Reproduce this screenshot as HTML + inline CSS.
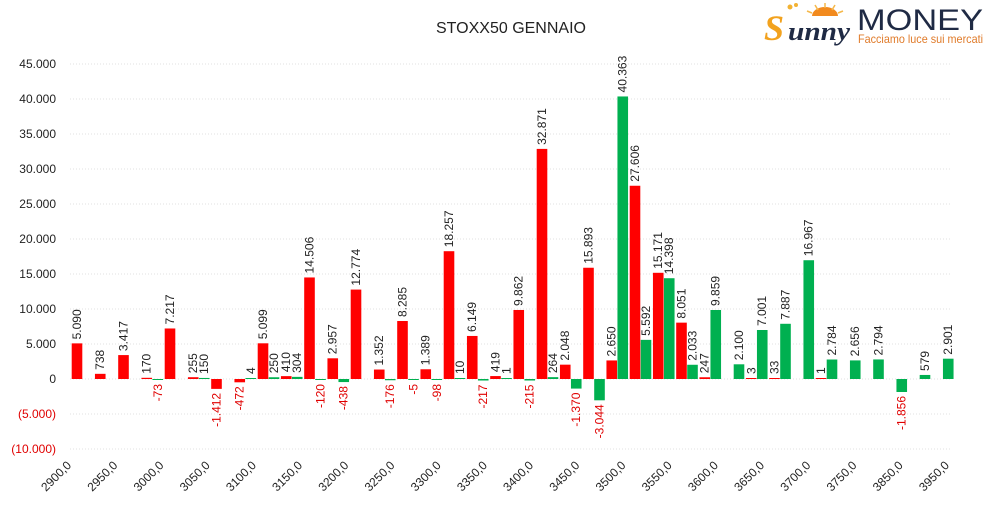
<!DOCTYPE html>
<html><head><meta charset="utf-8"><style>
html,body{margin:0;padding:0;background:#fff;}
svg{display:block;font-family:"Liberation Sans","DejaVu Sans",sans-serif;}
</style></head><body>
<svg id="chart" width="992" height="506" viewBox="0 0 992 506" xmlns="http://www.w3.org/2000/svg">
<rect width="992" height="506" fill="#fff"/>
<text x="511" y="33" text-anchor="middle" font-size="16" fill="#222">STOXX50 GENNAIO</text>
<g>
 <circle cx="790" cy="7" r="2.5" fill="#f2b233"/><circle cx="796" cy="5" r="2" fill="#f2b233"/>
 <path d="M812 16 A13 9 0 0 1 838 16 Z" fill="#f28a1e"/>
 <g stroke="#f5b84a" stroke-width="1.5"><line x1="825" y1="3" x2="825" y2="8"/><line x1="815" y1="5" x2="818" y2="10"/><line x1="835" y1="5" x2="832" y2="10"/><line x1="807" y1="11" x2="812" y2="13"/><line x1="843" y1="11" x2="838" y2="13"/></g>
 <text x="764" y="40" font-size="36" font-weight="bold" font-style="italic" fill="#f2a21e" font-family="Liberation Serif,serif">S</text>
 <text x="788" y="40" font-size="26" font-weight="bold" font-style="italic" fill="#1f2a44" font-family="Liberation Serif,serif" textLength="62" lengthAdjust="spacingAndGlyphs">unny</text>
 <text x="857" y="30" font-size="30" fill="#1f2a44" textLength="126" lengthAdjust="spacingAndGlyphs">MONEY</text>
 <text x="858" y="43" font-size="12" fill="#e07b2a" textLength="125" lengthAdjust="spacingAndGlyphs">Facciamo luce sui mercati</text>
</g>
<g id="grid"></g><g id="yaxis"></g><g id="bars"></g><g id="labels"></g><g id="xaxis"></g>
</svg>
<script>
const categories=[2900,2925,2950,2975,3000,3025,3050,3075,3100,3125,3150,3175,3200,3225,3250,3275,3300,3325,3350,3375,3400,3425,3450,3475,3500,3525,3550,3575,3600,3625,3650,3675,3700,3725,3750,3850,3900,3950];
const redValues=[5090,738,3417,170,7217,255,-1412,-472,5099,410,14506,2957,12774,1352,8285,1389,18257,6149,419,9862,32871,2048,15893,2650,27606,15171,8051,247,0,3,33,0,1,0,0,0,0,0];
const greenValues=[0,0,0,-73,0,150,0,4,250,304,-120,-438,0,-176,-5,-98,10,-217,1,-215,264,-1370,-3044,40363,5592,14398,2033,9859,2100,7001,7887,16967,2784,2656,2794,-1856,579,2901];
const redShown=[1,1,1,1,1,1,1,1,1,1,1,1,1,1,1,1,1,1,1,1,1,1,1,1,1,1,1,1,0,1,1,0,1,0,0,0,0,0];
const greenShown=[0,0,0,1,0,1,0,1,1,1,1,1,0,1,1,1,1,1,1,1,1,1,1,1,1,1,1,1,1,1,1,1,1,1,1,1,1,1];
const yTicks=[45000,40000,35000,30000,25000,20000,15000,10000,5000,0,-5000,-10000];
const xTickLabels=["2900,0","2950,0","3000,0","3050,0","3100,0","3150,0","3200,0","3250,0","3300,0","3350,0","3400,0","3450,0","3500,0","3550,0","3600,0","3650,0","3700,0","3750,0","3850,0","3950,0"];

const NS="http://www.w3.org/2000/svg";
const y0=379, pxPer=35/5000;
function yScale(v){return y0-v*pxPer;}
const bandW=23.25, redLeft0=71.7, barW=10.6;
function xRed(i){return redLeft0+i*bandW;}
function xGreen(i){return redLeft0+11+i*bandW;}
function fmt(v){const s=Math.abs(v).toString().replace(/\B(?=(\d{3})+(?!\d))/g,".");return (v<0?"-":"")+s;}
function fmtTick(v){const s=Math.abs(v).toString().replace(/\B(?=(\d{3})+(?!\d))/g,".");return v<0?"("+s+")":s;}
function mk(tag,attrs,parent){const e=document.createElementNS(NS,tag);for(const k in attrs)e.setAttribute(k,attrs[k]);parent.appendChild(e);return e;}
const grid=document.getElementById('grid'),yaxis=document.getElementById('yaxis'),bars=document.getElementById('bars'),labels=document.getElementById('labels'),xaxis=document.getElementById('xaxis');
yTicks.forEach(t=>{
  const y=yScale(t);
  const g=mk('line',{x1:70,x2:952,y1:y,y2:y,stroke:'#e2e2e2','stroke-width':1,'stroke-dasharray':'1,2'},grid);
  
  
  const tx=mk('text',{x:56,y:y+4,'text-anchor':'end','font-size':12,fill:t<0?'#e00000':'#222'},yaxis);
  tx.textContent=fmtTick(t);
  
  
});
function drawBar(i,v,x,color,shown){
  const h=Math.max(Math.abs(v)*pxPer,1);
  if(v!==0||shown){
    const r=mk('rect',{x:x,y:v>=0?y0-h:y0,width:barW,height:h,fill:color},bars);
    
    
  }
  if(!shown)return;
  const cx=x+barW/2+4;
  let t;
  if(v>=0){
    const yy=y0-h-4;
    t=mk('text',{x:cx,y:yy,transform:`rotate(-90 ${cx} ${yy})`,'font-size':12,fill:'#222'},labels);
  } else {
    const yy=y0+h+4;
    t=mk('text',{x:cx,y:yy,transform:`rotate(-90 ${cx} ${yy})`,'text-anchor':'end','font-size':12,fill:'#e00000'},labels);
  }
  t.textContent=fmt(v);
  
  
}
categories.forEach((c,i)=>{
  drawBar(i,redValues[i],xRed(i),'#ff0000',redShown[i]);
  drawBar(i,greenValues[i],xGreen(i),'#00b050',greenShown[i]);
});
xTickLabels.forEach((l,k)=>{
  const ax=72+k*46.2, ay=466;
  const t=mk('text',{x:ax,y:ay,transform:`rotate(-45 ${ax} ${ay})`,'text-anchor':'end','font-size':12,fill:'#222'},xaxis);
  t.textContent=l;
  
  
});
</script>
</body></html>
